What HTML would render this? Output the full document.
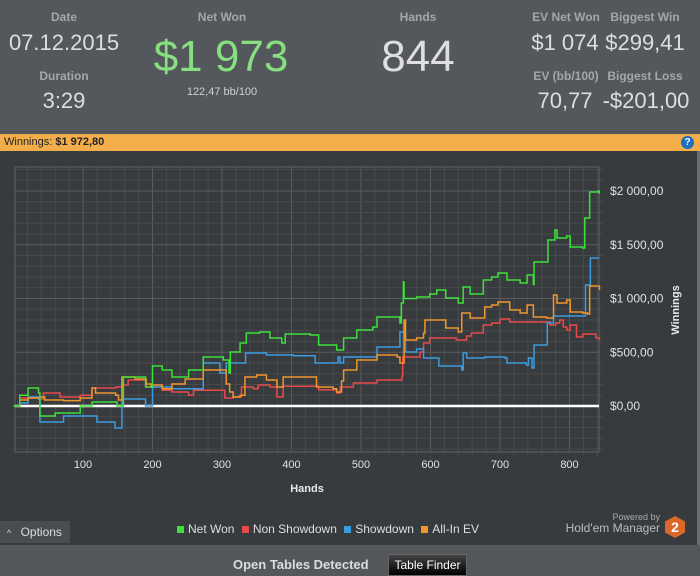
<!DOCTYPE html>
<html><head><meta charset="utf-8"><style>
body{margin:0;width:700px;height:576px;overflow:hidden;background:#54575b;font-family:"Liberation Sans",sans-serif;position:relative}
.t{position:absolute;transform:translateX(-50%);white-space:nowrap;text-align:center}
.lab{color:#a4a7aa;font-size:12px;font-weight:bold}
.v{color:#dedede;font-size:22px}
</style></head><body>
<div style="position:absolute;left:0;top:0;width:700px;height:133px;background:#54575b"></div>
<div class="t lab" style="left:64px;top:10px">Date</div>
<div class="t v" style="left:64px;top:30px">07.12.2015</div>
<div class="t lab" style="left:64px;top:69px">Duration</div>
<div class="t v" style="left:64px;top:88px">3:29</div>
<div class="t lab" style="left:222px;top:10px">Net Won</div>
<div class="t" style="left:221px;top:32px;font-size:44px;color:#86e07f">$1 973</div>
<div class="t" style="left:222px;top:86px;font-size:11px;color:#d0d0d0">122,47 bb/100</div>
<div class="t lab" style="left:418px;top:10px">Hands</div>
<div class="t" style="left:418px;top:32px;font-size:44px;color:#dedede">844</div>
<div class="t lab" style="left:566px;top:10px">EV Net Won</div>
<div class="t v" style="left:565px;top:30px">$1 074</div>
<div class="t lab" style="left:645px;top:10px">Biggest Win</div>
<div class="t v" style="left:645px;top:30px">$299,41</div>
<div class="t lab" style="left:566px;top:69px">EV (bb/100)</div>
<div class="t v" style="left:565px;top:88px">70,77</div>
<div class="t lab" style="left:645px;top:69px">Biggest Loss</div>
<div class="t v" style="left:646px;top:88px">-$201,00</div>

<div style="position:absolute;left:0;top:134px;width:700px;height:17px;background:#f3ae4a;font-size:11px;color:#222;line-height:17px"><span style="margin-left:4px">Winnings: <b>$1 972,80</b></span>
<div style="position:absolute;right:6px;top:2px;width:13px;height:13px;border-radius:50%;background:#1f6fc0;color:#fff;font-size:10px;font-weight:bold;line-height:13px;text-align:center">?</div></div>
<div style="position:absolute;left:0;top:151px;width:697px;height:394px;background:#383b3e;border-right:3px solid #6a6d70"></div>
<svg style="position:absolute;left:0;top:0" width="700" height="576" id="chart"></svg>
<div style="position:absolute;left:0;top:521px;width:70px;height:22px;background:#4a4d50;color:#ddd;font-size:12px;line-height:22px"><span style="margin-left:7px;font-size:9px">^</span> <span style="margin-left:6px">Options</span></div>
<div style="position:absolute;left:177px;top:522px;font-size:12px;color:#ddd;white-space:nowrap">
<span><span style="display:inline-block;width:7px;height:7px;background:#3ce03a;margin-right:4px"></span>Net Won</span>
<span style="margin-left:4px"><span style="display:inline-block;width:7px;height:7px;background:#e84a4a;margin-right:4px"></span>Non Showdown</span>
<span style="margin-left:4px"><span style="display:inline-block;width:7px;height:7px;background:#3a9ce0;margin-right:4px"></span>Showdown</span>
<span style="margin-left:4px"><span style="display:inline-block;width:7px;height:7px;background:#f0962e;margin-right:4px"></span>All-In EV</span></div>
<div style="position:absolute;left:560px;top:512px;width:100px;text-align:right;color:#aaa;font-size:9px">Powered by</div>
<div style="position:absolute;left:555px;top:521px;width:105px;text-align:right;color:#bbb;font-size:12px">Hold'em Manager</div>
<div style="position:absolute;left:665px;top:516px;width:20px;height:22px;background:#d9682a;clip-path:polygon(50% 0,100% 25%,100% 75%,50% 100%,0 75%,0 25%);color:#fff;font-weight:bold;font-size:14px;text-align:center;line-height:22px">2</div>
<div style="position:absolute;left:233px;top:557px;font-size:13px;font-weight:bold;color:#ddd">Open Tables Detected</div>
<div style="position:absolute;left:388px;top:554px;width:77px;height:20px;background:linear-gradient(#444,#000);border:1px solid #666;color:#fff;font-size:12px;text-align:center;line-height:20px">Table Finder</div>
<script>
const netHands=[0,3,9,21,36,38,60,96,113,149,158,190,200,214,228,252,273,302,310,312,326,335,354,369,386,391,427,439,465,475,494,517,523,552,556,558,561,562,580,599,609,622,640,647,657,676,688,697,710,729,739,748,749,762,769,779,782,796,801,819,822,828,829,841,843];
const netWon=[0,0,100,167,121,-93,-65,0,37,0,270,177,372,335,270,335,456,428,307,502,586,679,688,633,586,670,660,567,521,633,707,735,828,828,772,958,1153,1000,1014,1042,1079,1005,958,1107,1042,1172,1200,1237,1172,1144,1219,1130,1340,1340,1544,1637,1563,1581,1479,1470,1749,1749,1991,2000,1973];
const sdHands=[0,3,9,21,36,38,67,72,120,146,150,156,190,198,200,228,273,274,297,306,311,334,364,369,403,434,436,467,470,475,494,523,555,556,562,564,580,590,612,637,645,647,652,678,707,710,738,741,746,749,768,777,823,830,843];
const showdown=[0,0,28,84,65,-149,-149,-93,-149,-205,-205,65,0,0,177,160,400,400,307,400,400,493,474,474,467,400,400,456,400,456,456,549,549,688,688,502,530,447,372,372,335,493,447,456,447,400,381,447,354,567,772,837,1126,1377,1377];
const nsHands=[0,3,9,38,43,67,96,113,147,156,165,191,200,214,228,252,259,297,304,316,328,345,352,369,379,388,432,439,465,470,489,523,559,560,585,590,599,637,652,659,676,688,700,714,753,772,780,786,791,796,801,810,819,838,843];
const nonShowdown=[0,0,74,65,121,84,100,167,177,195,242,177,177,147,130,100,147,147,74,84,177,160,195,177,84,184,184,150,121,177,214,242,279,456,502,586,633,614,651,679,753,772,809,781,781,753,772,800,735,707,753,642,670,633,614,595];
const evHands=[0,3,9,21,38,45,72,96,113,118,147,151,156,166,175,191,198,200,214,228,247,273,297,306,311,316,326,333,350,364,379,388,427,436,460,465,472,475,494,523,552,556,562,564,580,590,592,609,622,640,645,657,678,688,697,714,729,739,748,767,777,782,796,801,819,826,829,843];
const allInEv=[0,0,56,74,84,56,50,74,167,121,100,56,270,270,251,205,177,195,160,205,251,335,335,205,130,84,100,270,288,242,177,270,270,177,160,130,232,335,428,474,456,400,800,614,633,679,800,800,726,688,865,819,921,940,967,893,865,940,828,819,1033,958,986,875,865,856,1116,1079];
const xTicks=[100,200,300,400,500,600,700,800];
const yTicks=[0,500,1000,1500,2000];
const yTickLabels=["$0,00","$500,00","$1 000,00","$1 500,00","$2 000,00"];

const X0=15,X1=599,Y0=167,Y1=452;
const xs=h=>13.5+h*0.695;
const ys=v=>406-v*0.1075;
const svg=document.getElementById('chart');
const NS='http://www.w3.org/2000/svg';
function mk(t,a){const e=document.createElementNS(NS,t);for(const k in a)e.setAttribute(k,a[k]);svg.appendChild(e);return e;}
// grid
for(let h=0;h<=860;h+=20){const x=xs(h);if(x<X0||x>X1)continue;const major=h%100===0;
const l=mk('line',{x1:x,x2:x,y1:Y0,y2:Y1+(major?0:4),stroke:major?'#5a5d60':'#47494c','stroke-width':1});

}
for(let v=-400;v<=2400;v+=100){const y=ys(v);if(y<Y0||y>Y1)continue;const major=v%500===0;
const l=mk('line',{x1:X0,x2:X1+(major?0:4),y1:y,y2:y,stroke:major?'#5a5d60':'#47494c','stroke-width':1});

}
const fr=mk('rect',{x:X0,y:Y0,width:X1-X0,height:Y1-Y0,fill:'none',stroke:'#5f6265'});


xTicks.forEach(h=>{const t=mk('text',{x:xs(h),y:468,fill:'#e0e0e0','font-size':11,'text-anchor':'middle'});t.textContent=h;

});
yTicks.forEach((v,i)=>{const t=mk('text',{x:610,y:ys(v)+4,fill:'#e0e0e0','font-size':12});t.textContent=yTickLabels[i];

});
const xt=mk('text',{x:307,y:492,fill:'#e8e8e8','font-size':11,'font-weight':'bold','text-anchor':'middle'});xt.textContent='Hands';


const yt=mk('text',{x:0,y:0,fill:'#e8e8e8','font-size':11,'font-weight':'bold','text-anchor':'middle',transform:'translate(679,310) rotate(-90)'});yt.textContent='Winnings';


const zl=mk('line',{x1:X0,x2:X1,y1:ys(0),y2:ys(0),stroke:'#ffffff','stroke-width':2.5});


function series(hs,vs,color,name){let d='M'+xs(hs[0])+','+ys(vs[0]);
for(let i=1;i<hs.length;i++){d+=' H'+xs(hs[i])+' V'+ys(vs[i]);}
const p=mk('path',{d:d,fill:'none',stroke:color,'stroke-width':1.5});

}
series(nsHands,nonShowdown,'#e84a4a','non-showdown-line');
series(sdHands,showdown,'#3a9ce0','showdown-line');
series(evHands,allInEv,'#f0962e','all-in-ev-line');
series(netHands,netWon,'#3ce03a','net-won-line');
</script>
</body></html>
